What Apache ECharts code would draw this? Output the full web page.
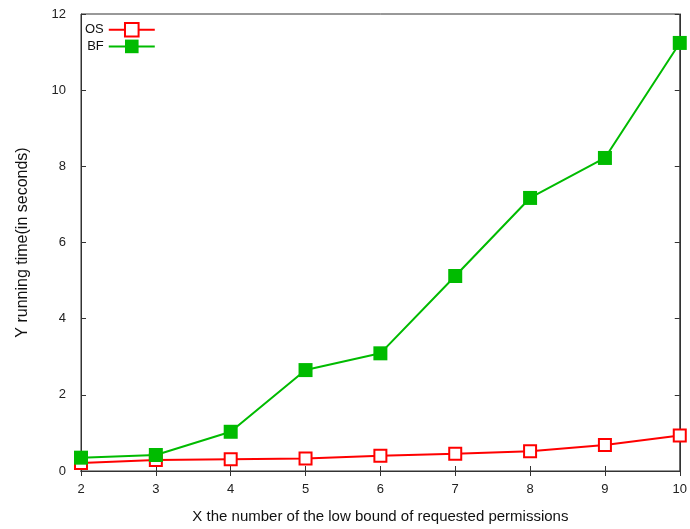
<!DOCTYPE html>
<html lang="en">
<head>
	<meta charset="UTF-8">
	<title>running time</title>
	<style>body{margin:0;background:#fff;}</style>
</head>
<body>
<div id="chart" style="width:690px;height:529px;"></div>
<script src="https://cdn.jsdelivr.net/npm/echarts@6/dist/echarts.min.js"></script>
<script>
	var xs = [2, 3, 4, 5, 6, 7, 8, 9, 10];
	var osTimes = [0.21, 0.29, 0.31, 0.33, 0.40, 0.45, 0.52, 0.68, 0.93];
	var bfTimes = [0.35, 0.42, 1.03, 2.65, 3.09, 5.12, 7.17, 8.22, 11.24];

	function pairs(v) {
		return xs.map(function (x, i) { return [x, v[i]]; });
	}

	var font = 'Liberation Sans, Arial, sans-serif';
	var myChart = echarts.init(document.getElementById('chart'));

	var option = {
		backgroundColor: '#fff',
		animation: false,
		textStyle: {fontFamily: font},
		grid: {left: 81, right: 6, top: 14, bottom: 58, show: true, borderColor: '#333', borderWidth: 1},
		legend: {
			left: 80, top: 17, orient: 'vertical', align: 'right',
			itemWidth: 46, itemHeight: 17, itemGap: 2,
			textStyle: {fontFamily: font, fontSize: 13, color: '#111'},
			data: ['OS', 'BF']
		},
		xAxis: [{
			type: 'value', min: 2, max: 10, interval: 1,
			name: 'X the number of the low bound of requested permissions',
			nameLocation: 'middle', nameGap: 38,
			nameTextStyle: {fontSize: 15, color: '#111'},
			axisLine: {lineStyle: {color: '#333'}},
			axisTick: {inside: true, length: 5, lineStyle: {color: '#333'}},
			axisLabel: {fontSize: 13, color: '#222', margin: 12},
			splitLine: {show: false}
		}, {
			type: 'value', min: 2, max: 10, interval: 1, position: 'top',
			axisLine: {lineStyle: {color: '#333'}},
			axisTick: {inside: true, length: 5, lineStyle: {color: '#333'}},
			axisLabel: {show: false}, splitLine: {show: false}
		}],
		yAxis: [{
			type: 'value', min: 0, max: 12, interval: 2,
			name: 'Y running time(in seconds)',
			nameLocation: 'middle', nameGap: 50,
			nameTextStyle: {fontSize: 16, color: '#111'},
			axisLine: {show: true, lineStyle: {color: '#333'}},
			axisTick: {inside: true, length: 5, lineStyle: {color: '#333'}},
			axisLabel: {fontSize: 13, color: '#222', margin: 15},
			splitLine: {show: false}
		}, {
			type: 'value', min: 0, max: 12, interval: 2, position: 'right',
			axisLine: {show: true, lineStyle: {color: '#333'}},
			axisTick: {show: true, inside: true, length: 5, lineStyle: {color: '#333'}},
			axisLabel: {show: false}, splitLine: {show: false}
		}],
		series: [
			{
				name: 'OS', type: 'line', data: pairs(osTimes),
				symbol: 'rect', symbolSize: 12,
				itemStyle: {color: '#fff', borderColor: '#ff0000', borderWidth: 2},
				lineStyle: {color: '#ff0000', width: 2},
				z: 2
			},
			{
				name: 'BF', type: 'line', data: pairs(bfTimes),
				symbol: 'rect', symbolSize: 14,
				itemStyle: {color: '#00bb00', borderWidth: 0},
				lineStyle: {color: '#00bb00', width: 2},
				z: 3
			}
		]
	};

	myChart.setOption(option);
</script>
</body>
</html>
